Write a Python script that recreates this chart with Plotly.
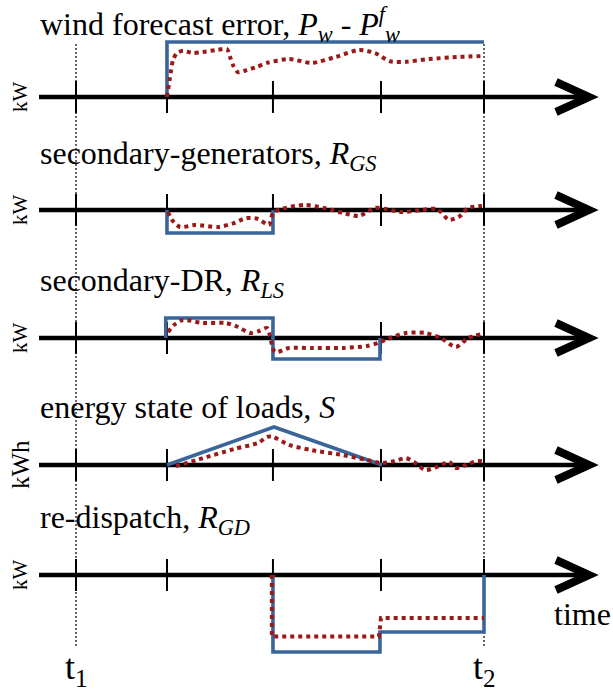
import plotly.graph_objects as go

# ---------------- data (time in arbitrary units, t1 = 0, t2 = 4) ----------------
tick_times = [0.0, 0.892, 1.931, 2.990, 4.0]
t1, t2 = 0.0, 4.0

# panel 1: wind forecast error
wind_blue_t = [0.892, 0.892, 4.0]
wind_blue_v = [0.0, 1.0, 1.0]
wind_red_t = [0.892, 0.922, 0.951, 0.99, 1.049, 1.147, 1.245, 1.382, 1.48, 1.51, 1.539, 1.588,
              1.676, 1.775, 1.873, 2.088, 2.314, 2.549, 2.775, 2.931, 3.078, 3.235, 3.461, 3.765, 4.0]
wind_red_v = [0.0, 0.36, 0.67, 0.80, 0.84, 0.80, 0.82, 0.855, 0.87, 0.73, 0.58, 0.45,
              0.49, 0.55, 0.62, 0.69, 0.62, 0.73, 0.855, 0.80, 0.65, 0.64, 0.69, 0.73, 0.745]

# panel 2: secondary generators
gen_blue_t = [0.892, 0.892, 1.931, 1.931]
gen_blue_v = [0.0, -1.0, -1.0, 0.0]
gen_red_t = [0.902, 0.941, 1.02, 1.167, 1.392, 1.549, 1.667, 1.784, 1.892, 1.931, 2.01, 2.235,
             2.431, 2.618, 2.775, 2.931, 3.039, 3.196, 3.382, 3.539, 3.657, 3.765, 3.843, 3.98]
gen_red_v = [-0.09, -0.43, -0.74, -0.65, -0.74, -0.57, -0.35, -0.39, -0.65, -0.13, 0.04, 0.22,
             0.09, -0.13, -0.26, 0.09, 0.04, -0.09, 0.0, 0.04, -0.43, -0.26, 0.09, 0.17]

# panel 3: secondary DR
dr_blue_t = [0.88, 0.88, 1.931, 1.931, 2.98, 2.98]
dr_blue_v = [0.0, 1.0, 1.0, -1.05, -1.05, 0.0]
dr_red_t = [0.902, 0.961, 1.049, 1.245, 1.471, 1.588, 1.706, 1.794, 1.873, 1.951, 2.088, 2.314,
            2.618, 2.853, 2.961, 3.078, 3.235, 3.422, 3.578, 3.725, 3.843, 3.98]
dr_red_v = [0.3, 0.65, 0.9, 0.75, 0.75, 0.55, 0.25, 0.35, 0.5, -0.7, -0.5, -0.5,
            -0.5, -0.4, -0.25, 0.0, 0.25, 0.25, 0.0, -0.45, 0.0, 0.2]

# panel 4: energy state of loads
soc_blue_t = [0.892, 1.941, 3.0]
soc_blue_v = [0.0, 1.0, 0.0]
soc_red_t = [0.98, 1.245, 1.549, 1.784, 1.873, 1.931, 2.088, 2.314, 2.618, 2.853, 3.0, 3.118,
             3.235, 3.314, 3.422, 3.539, 3.657, 3.725, 3.824, 3.922, 3.98]
soc_red_v = [-0.03, 0.18, 0.42, 0.58, 0.74, 0.74, 0.53, 0.39, 0.26, 0.13, 0.05, 0.10,
             0.18, 0.08, -0.13, -0.05, 0.08, -0.08, 0.0, 0.10, 0.10]

# panel 5: re-dispatch
rd_blue_t = [1.931, 1.931, 2.98, 2.98, 4.0, 4.0]
rd_blue_v = [0.0, -1.0, -1.0, -0.74, -0.74, 0.0]
rd_red_t = [1.92, 1.92, 2.97, 2.99, 4.0]
rd_red_v = [0.0, -0.80, -0.80, -0.56, -0.56]

titles = [
    "wind forecast error, <i>P<sub>w</sub></i> - <i>P<sup>f</sup><sub>w</sub></i>",
    "secondary-generators<i>,</i> <i>R<sub>GS</sub></i>",
    "secondary-DR, <i>R<sub>LS</sub></i>",
    "energy state of loads<i>,</i> <i>S</i>",
    "re-dispatch, <i>R<sub>GD</sub></i>",
]
unit_labels = ["kW", "kW", "kW", "kWh", "kW"]
unit_sizes = [21, 21, 21, 25, 21]

# ---------------- layout constants ----------------
W, H = 613, 694
T0_PX, PX_PER_T = 76, 102          # pixel of t=0 and pixels per time unit
panel_rows = [97, 210, 338, 465, 575]  # pixel row of each zero line
panel_scale = [55, 23, 20, 38, 77]     # pixels per value unit
title_rows = [24, 155, 283, 407, 519]

BLUE = "#3A659B"
RED = "#9A1A1A"
FONT = "Liberation Serif, Times New Roman, serif"

series = [
    (wind_blue_t, wind_blue_v, wind_red_t, wind_red_v, "spline"),
    (gen_blue_t, gen_blue_v, gen_red_t, gen_red_v, "spline"),
    (dr_blue_t, dr_blue_v, dr_red_t, dr_red_v, "spline"),
    (soc_blue_t, soc_blue_v, soc_red_t, soc_red_v, "spline"),
    (rd_blue_t, rd_blue_v, rd_red_t, rd_red_v, "linear"),
]

fig = go.Figure()
shapes, annotations = [], []
axis_start_t = (39 - T0_PX) / PX_PER_T
arrow_tip_t = (589 - T0_PX) / PX_PER_T

for i, (bt, bv, rt, rv, shape) in enumerate(series):
    yname = "y" if i == 0 else f"y{i+1}"
    fig.add_trace(go.Scatter(x=bt, y=bv, yaxis=yname, mode="lines",
                             line=dict(color=BLUE, width=3.6), hoverinfo="skip"))
    fig.add_trace(go.Scatter(x=rt, y=rv, yaxis=yname, mode="lines",
                             line=dict(color=RED, width=4, dash="4px,4px", shape=shape,
                                       smoothing=0.7 if shape == "spline" else None),
                             hoverinfo="skip"))
    row, s = panel_rows[i], panel_scale[i]
    key = "yaxis" if i == 0 else f"yaxis{i+1}"
    ax = dict(range=[-(H - row) / s, row / s], visible=False, fixedrange=True, domain=[0, 1])
    if i > 0:
        ax["overlaying"] = "y"
    fig.layout[key] = ax

    # main axis line
    shapes.append(dict(type="line", xref="x", yref=yname, x0=axis_start_t, x1=arrow_tip_t - 0.03,
                       y0=0, y1=0, line=dict(color="black", width=4.5), layer="below"))
    # arrow head (chevron)
    shapes.append(dict(type="path", xref="x", yref=yname, xsizemode="pixel", ysizemode="pixel",
                       xanchor=arrow_tip_t, yanchor=0, path="M -33,15 L 0,0 L -33,-15",
                       line=dict(color="black", width=8), layer="below"))
    # ticks
    for tt in tick_times:
        shapes.append(dict(type="line", xref="x", yref=yname, x0=tt, x1=tt,
                           ysizemode="pixel", yanchor=0, y0=-16, y1=16,
                           line=dict(color="black", width=2), layer="below"))
    # panel title
    annotations.append(dict(text=titles[i], xref="paper", yref="paper", x=38 / W,
                            y=1 - title_rows[i] / H, xanchor="left", yanchor="middle",
                            showarrow=False, font=dict(family=FONT, size=32, color="black")))
    # unit label
    annotations.append(dict(text=unit_labels[i], xref="paper", yref=yname, x=20 / W, y=0,
                            xanchor="center", yanchor="middle", textangle=-90, showarrow=False,
                            font=dict(family=FONT, size=unit_sizes[i], color="black")))

# dotted verticals at t1, t2
for tt in (t1, t2):
    shapes.append(dict(type="line", xref="x", yref="paper", x0=tt, x1=tt,
                       y0=1 - 646 / H, y1=1 - 42 / H,
                       line=dict(color="black", width=1.2, dash="2px,2px"), layer="below"))

for tt, lbl in ((t1, "t<sub>1</sub>"), (t2, "t<sub>2</sub>")):
    annotations.append(dict(text=lbl, xref="x", yref="paper", x=tt, y=1 - 669 / H,
                            xanchor="center", yanchor="middle", showarrow=False,
                            font=dict(family=FONT, size=36, color="black")))
annotations.append(dict(text="time", xref="paper", yref="paper", x=582 / W, y=1 - 614 / H,
                        xanchor="center", yanchor="middle", showarrow=False,
                        font=dict(family=FONT, size=32, color="black")))

fig.update_layout(
    width=W, height=H, margin=dict(l=0, r=0, t=0, b=0),
    paper_bgcolor="white", plot_bgcolor="white", showlegend=False,
    xaxis=dict(range=[-T0_PX / PX_PER_T, (W - T0_PX) / PX_PER_T], visible=False, fixedrange=True),
    shapes=shapes, annotations=annotations,
)

fig.write_html("out.html", config={"displayModeBar": False},
               post_script="document.body.style.margin='0px';")
